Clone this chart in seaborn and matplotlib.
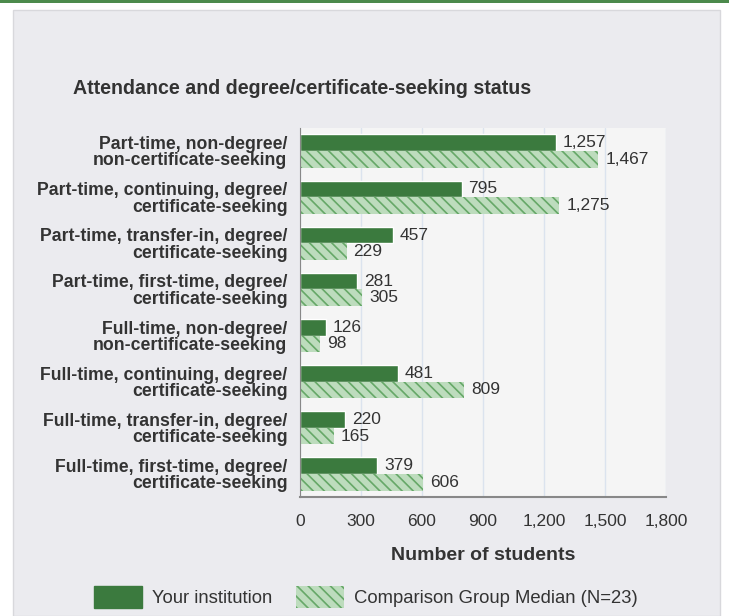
import pandas as pd
import matplotlib
matplotlib.use('Agg')
import matplotlib.pyplot as plt
import matplotlib.patches as mpatches
from matplotlib.ticker import FuncFormatter, FixedLocator
import seaborn as sns

# Données
categories = [
    'Part-time, non-degree/\nnon-certificate-seeking',
    'Part-time, continuing, degree/\ncertificate-seeking',
    'Part-time, transfer-in, degree/\ncertificate-seeking',
    'Part-time, first-time, degree/\ncertificate-seeking',
    'Full-time, non-degree/\nnon-certificate-seeking',
    'Full-time, continuing, degree/\ncertificate-seeking',
    'Full-time, transfer-in, degree/\ncertificate-seeking',
    'Full-time, first-time, degree/\ncertificate-seeking',
]
institution = [1257, 795, 457, 281, 126, 481, 220, 379]
comparison = [1467, 1275, 229, 305, 98, 809, 165, 606]
series_names = ['Your institution', 'Comparison Group Median (N=23)']
x_ticks = [0, 300, 600, 900, 1200, 1500, 1800]

data = pd.DataFrame({
    'Category': categories * 2,
    'Students': institution + comparison,
    'Group': [series_names[0]] * len(categories) + [series_names[1]] * len(categories),
})

dark_green = '#3b7a3e'
light_green = '#bddcbd'
hatch_green = '#66a868'
text_col = '#333333'

sns.set_style('white')
plt.rcParams['font.family'] = ['Liberation Sans', 'DejaVu Sans']
plt.rcParams['hatch.color'] = hatch_green
plt.rcParams['hatch.linewidth'] = 1.2

fig = plt.figure(figsize=(7.29, 6.16), dpi=100)
fig.patch.set_facecolor('white')

# Panneau gris et ligne verte en haut
fig.patches.append(mpatches.Rectangle((13 / 729, 0), 707 / 729, 1 - 10 / 616,
                                      transform=fig.transFigure, facecolor='#ebebef',
                                      edgecolor='#d8d8dc', linewidth=1, zorder=-2))
fig.patches.append(mpatches.Rectangle((0, 1 - 3 / 616), 1, 3 / 616,
                                      transform=fig.transFigure, facecolor='#4c8a4c',
                                      edgecolor='none', zorder=-1))

ax = fig.add_axes([300 / 729, 1 - 497 / 616, 366 / 729, 369 / 616])
ax.set_zorder(3)
sns.barplot(data=data, y='Category', x='Students', hue='Group', orient='h',
            palette=[dark_green, light_green], width=0.72, ax=ax, legend=False,
            saturation=1)

ax.set_facecolor('#f5f5f5')
for bar in ax.containers[1]:
    bar.set_hatch('\\\\\\')
    bar.set_edgecolor(hatch_green)
    bar.set_linewidth(0)

for cont in ax.containers:
    ax.bar_label(cont, labels=[f'{v:,.0f}' for v in cont.datavalues], padding=5,
                 fontsize=12.5, color=text_col)

ax.set_xlim(0, 1800)
ax.set_ylim(len(categories) - 0.5, -0.5)
ax.xaxis.set_major_locator(FixedLocator(x_ticks))
ax.xaxis.set_major_formatter(FuncFormatter(lambda v, p: f'{v:,.0f}'))
ax.grid(axis='x', color='#dbe3ee', linewidth=1)
ax.set_axisbelow(True)

for s in ['top', 'right']:
    ax.spines[s].set_visible(False)
ax.spines['left'].set_color('#888888')
ax.spines['bottom'].set_color('#888888')
ax.spines['bottom'].set_linewidth(1.5)

ax.set_yticks(range(len(categories)))
ax.set_yticklabels(categories, fontsize=12.7, color=text_col, fontweight='bold',
                   linespacing=0.95)
ax.tick_params(axis='y', length=0, pad=9)
ax.set_yticks([i - 0.5 for i in range(len(categories) + 1)], minor=True)
ax.tick_params(axis='y', which='minor', length=5, color='#888888')
ax.tick_params(axis='x', length=0, pad=12, labelsize=12.5, labelcolor=text_col)

ax.set_ylabel('')
ax.set_xlabel('Number of students', fontsize=14, fontweight='bold', color=text_col,
              labelpad=13)

fig.text(73 / 729, 1 - 89 / 616, 'Attendance and degree/certificate-seeking status',
         fontsize=14.1, fontweight='bold', color=text_col, va='center')

handles = [mpatches.Patch(facecolor=dark_green, edgecolor=dark_green),
           mpatches.Patch(facecolor=light_green, edgecolor=hatch_green, linewidth=0,
                          hatch='\\\\\\')]
fig.legend(handles, series_names, loc='center', bbox_to_anchor=(0.502, 1 - 597 / 616),
           ncol=2, frameon=False, handlelength=2.6, handleheight=1.4,
           handletextpad=0.55, columnspacing=1.3, labelcolor=text_col,
           prop={'size': 13.3})

fig.savefig('out.png', dpi=100, facecolor=fig.get_facecolor())
